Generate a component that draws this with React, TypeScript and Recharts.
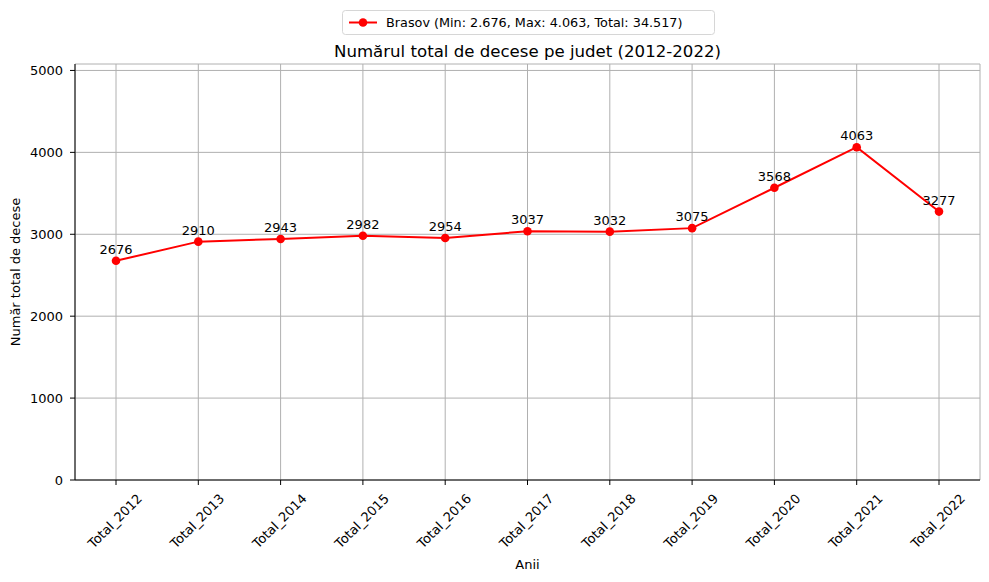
import React from 'react';
import { LineChart, Line, XAxis, YAxis, CartesianGrid, LabelList, Customized } from 'recharts';

const years = ['Total_2012', 'Total_2013', 'Total_2014', 'Total_2015', 'Total_2016', 'Total_2017', 'Total_2018', 'Total_2019', 'Total_2020', 'Total_2021', 'Total_2022'];
const deaths = [2676, 2910, 2943, 2982, 2954, 3037, 3032, 3075, 3568, 4063, 3277];
const yTicks = [0, 1000, 2000, 3000, 4000, 5000];
const seriesName = 'Brasov (Min: 2.676, Max: 4.063, Total: 34.517)';
const title = 'Numărul total de decese pe judet (2012-2022)';
const xLabel = 'Anii';
const yLabel = 'Număr total de decese';

const data = years.map((y, i) => ({ year: y, value: deaths[i] }));
const yMax = Math.max(...deaths) * 1.25;

const FONT = '"DejaVu Sans", sans-serif';
const RED = '#ff0000';

const XTick = (props: any) => {
  const { x, payload } = props;
  const cx = x - 1;
  const cy = 521;
  return (
    <text x={cx} y={cy} transform={`rotate(-45, ${cx}, ${cy})`} textAnchor="middle" dominantBaseline="central" fontFamily={FONT} fontSize={13} fill="#000">
      {payload.value}
    </text>
  );
};

const PointLabel = (props: any) => {
  const { x, y, value } = props;
  return (
    <text x={x} y={y - 7} textAnchor="middle" fontFamily={FONT} fontSize={13} fill="#000">
      {value}
    </text>
  );
};

const Decor = () => (
  <g fontFamily={FONT}>
    <text x={527.5} y={57} textAnchor="middle" fontSize={16.6} fill="#000">{title}</text>
    <text x={527.5} y={569} textAnchor="middle" fontSize={13} fill="#000">{xLabel}</text>
    <text x={20} y={272} transform="rotate(-90, 20, 272)" textAnchor="middle" fontSize={13} fill="#000">{yLabel}</text>
    <rect x={342.5} y={10.5} width={372} height={24} rx={3} fill="#fff" stroke="#d6d6d6" />
    <line x1={349} y1={22.5} x2={377} y2={22.5} stroke={RED} strokeWidth={2} />
    <circle cx={363} cy={22.5} r={4.3} fill={RED} />
    <text x={386} y={27} fontSize={12.8} fill="#000">{seriesName}</text>
  </g>
);

export default function App() {
  return (
    <div style={{ position: 'absolute', left: 0, top: 0, width: 989, height: 582, background: '#fff' }}>
      <LineChart width={989} height={582} data={data} margin={{ top: 64, right: 9, bottom: 0, left: 0 }}>
        <CartesianGrid stroke="#b0b0b0" strokeWidth={1} />
        <XAxis
          dataKey="year"
          height={102}
          padding={{ left: 41, right: 41 }}
          interval={0}
          tickSize={5}
          tick={<XTick />}
          tickLine={{ stroke: '#000' }}
          axisLine={{ stroke: '#000' }}
        />
        <XAxis xAxisId="top" dataKey="year" orientation="top" height={0} tick={false} tickLine={false} axisLine={{ stroke: '#000' }} padding={{ left: 41, right: 41 }} />
        <YAxis
          type="number"
          width={75}
          domain={[0, yMax]}
          ticks={yTicks}
          allowDataOverflow
          tickSize={5}
          tickMargin={7}
          tick={{ fill: '#000', fontSize: 13, fontFamily: FONT }}
          tickLine={{ stroke: '#000' }}
          axisLine={{ stroke: '#000' }}
        />
        <YAxis yAxisId="right" orientation="right" width={0} type="number" domain={[0, yMax]} tick={false} tickLine={false} axisLine={{ stroke: '#000' }} />
        <Line
          type="linear"
          dataKey="value"
          stroke={RED}
          strokeWidth={2}
          dot={{ r: 4.3, fill: RED, stroke: 'none' }}
          activeDot={false}
          isAnimationActive={false}
        >
          <LabelList dataKey="value" content={<PointLabel />} />
        </Line>
        <Customized component={<Decor />} />
      </LineChart>
    </div>
  );
}
